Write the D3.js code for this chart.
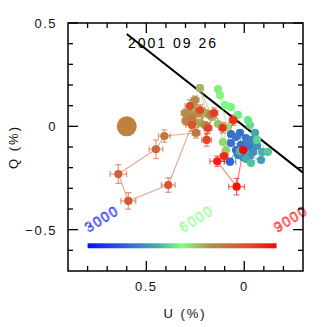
<!DOCTYPE html>
<html><head><meta charset="utf-8">
<script src="https://cdn.jsdelivr.net/npm/d3@7"></script>
<style>html,body{margin:0;padding:0;background:#fff;} svg{display:block;}</style>
</head><body>
<script>
// ---- data ----
const wavelength = [4200,4300,4330,4360,4390,4420,4450,4480,4510,4540,4570,4600,4630,
  4700,4780,4860,4940,5020,5100,5180,5260,5340,
  5420,5500,5580,5660,5740,5820,5900,5980,6060,6140,6220,6300,6380,
  6460,6520,6580,6640,6700,6760,6820,6880,6940,7000,7060,7120,7180,7240,7300,7360,7420,
  7600,7750,7850,7950,8020,8080,8140,8200,8260,8320,8400,8480,8560,8650,8800,8950];
const uPol = [0.073,0.042,0.068,0.022,0.017,0.068,0.042,-0.009,0.001,-0.029,0.032,-0.014,-0.040,
  0.006,-0.045,-0.065,-0.029,-0.086,-0.055,-0.009,-0.091,0.022,
  -0.034,-0.121,-0.065,-0.029,-0.019,0.032,0.068,0.098,0.124,0.134,0.088,0.109,0.093,
  0.134,0.165,0.226,0.195,0.226,0.262,0.277,0.236,0.302,0.251,0.200,0.298,0.175,0.262,0.267,0.246,0.408,
  0.451,0.643,0.592,0.388,0.267,0.277,0.226,0.192,0.185,0.155,0.110,0.056,0.103,0.138,0.039,0.006];
const qPol = [-0.171,-0.115,-0.037,-0.032,-0.090,-0.081,-0.052,-0.057,-0.115,-0.100,-0.139,-0.076,-0.066,
  -0.149,-0.124,-0.095,-0.144,-0.163,-0.032,-0.158,-0.124,-0.120,
  -0.178,-0.124,-0.066,0.006,0.030,0.055,0.093,0.103,0.151,0.180,-0.003,-0.076,-0.115,
  0.011,0.045,0.185,0.064,0.016,0.103,0.064,0.064,0.064,0.127,0.006,0.026,0.055,0.021,0.040,-0.032,-0.047,
  -0.111,-0.231,-0.361,-0.284,0.006,0.098,0.079,-0.066,-0.008,0.064,-0.007,0.030,-0.144,-0.169,-0.292,-0.115];
const uErr = [0.03,0.01,0.01,0.01,0.01,0.01,0.01,0.01,0.01,0.01,0.01,0.01,0.01,
  0.01,0.01,0.01,0.01,0.01,0.01,0.01,0.01,0.01,
  0.01,0.01,0.01,0.01,0.01,0.01,0.01,0.01,0.01,0.01,0.01,0.01,0.01,
  0.01,0.015,0.015,0.015,0.015,0.02,0.02,0.015,0.02,0.02,0.015,0.02,0.015,0.02,0.02,0.02,0.03,
  0.035,0.042,0.038,0.035,0.03,0.025,0.025,0.025,0.02,0.02,0.02,0.02,0.02,0.038,0.04,0.015];
const qErr = [0.015,0.01,0.01,0.01,0.01,0.01,0.01,0.01,0.01,0.01,0.01,0.01,0.01,
  0.01,0.01,0.01,0.01,0.01,0.01,0.01,0.01,0.01,
  0.01,0.01,0.01,0.01,0.01,0.01,0.01,0.01,0.01,0.01,0.01,0.01,0.01,
  0.01,0.015,0.015,0.015,0.015,0.025,0.02,0.015,0.02,0.02,0.015,0.02,0.015,0.02,0.02,0.025,0.03,
  0.045,0.045,0.04,0.035,0.03,0.03,0.025,0.03,0.025,0.025,0.025,0.025,0.025,0.025,0.04,0.015];
const ispU = [0.6];
const ispQ = [0.0];
const axisLineU = [0.6, -0.3];
const axisLineQ = [0.447, -0.224];
const xMajor = [0.5, 0];
const yMajor = [0.5, 0, -0.5];
const xMinor = [0.8,0.7,0.6,0.4,0.3,0.2,0.1,-0.1,-0.2];
const yMinor = [0.4,0.3,0.2,0.1,-0.1,-0.2,-0.3,-0.4,-0.6];
const barLabels = [3000, 6000, 9000];
const barLabelColors = ["#0000ff", "#80ff80", "#ff0000"];
const colorStops = [0, 0.25, 0.375, 0.5, 0.65, 0.75, 0.875, 1];
const colorValues = ["#0010ff","#3c78c8","#48b0a8","#80ff80","#b09048","#c87038","#e04428","#ff0000"];
const titleText = "2001 09 26";

// ---- chart ----
const W = 327, H = 327;
const svg = d3.select("body").append("svg").attr("width", W).attr("height", H);
const x = d3.scaleLinear().domain([0.9, -0.3]).range([68, 303]);
const y = d3.scaleLinear().domain([0.5, -0.7]).range([23, 271]);
const lamT = d3.scaleLinear().domain([3000, 9000]).range([0, 1]);
const col = d3.scaleLinear().domain(colorStops).range(colorValues).interpolate(d3.interpolateRgb).clamp(true);
const color = l => col(lamT(l));
const lamU = d3.scaleLinear().domain([3000, 9000]).range([0.8, -0.165]);

const pts = wavelength.map((l, i) => ({l, u: uPol[i], q: qPol[i], eu: uErr[i], eq: qErr[i]}));

const font = "'Liberation Sans', Arial, sans-serif";

// black line
svg.append("line")
  .attr("x1", x(axisLineU[0])).attr("y1", y(axisLineQ[0]))
  .attr("x2", x(axisLineU[1])).attr("y2", y(axisLineQ[1]))
  .attr("stroke", "#000").attr("stroke-width", 2);

// title
svg.append("text").attr("x", 128).attr("y", 48)
  .attr("font-family", font).attr("font-size", 14).attr("letter-spacing", 2)
  .attr("fill", "#000").text(titleText);

// ISP big dot
svg.append("circle").attr("cx", x(ispU[0])).attr("cy", y(ispQ[0])).attr("r", 10)
  .attr("fill", "#c08040");

// connecting lines
const g = svg.append("g");
for (let i = 1; i < pts.length; i++) {
  const a = pts[i-1], b = pts[i];
  g.append("line").attr("x1", x(a.u)).attr("y1", y(a.q)).attr("x2", x(b.u)).attr("y2", y(b.q))
    .attr("stroke", color(b.l)).attr("stroke-opacity", 0.55).attr("stroke-width", 1.1);
}
// error bars
pts.forEach(p => {
  const c = color(p.l);
  const eg = g.append("g").attr("stroke", c).attr("stroke-opacity", 0.6).attr("stroke-width", 1.3);
  eg.append("line").attr("x1", x(p.u - p.eu)).attr("x2", x(p.u + p.eu)).attr("y1", y(p.q)).attr("y2", y(p.q));
  eg.append("line").attr("x1", x(p.u)).attr("x2", x(p.u)).attr("y1", y(p.q - p.eq)).attr("y2", y(p.q + p.eq));
  eg.append("line").attr("x1", x(p.u - p.eu)).attr("x2", x(p.u - p.eu)).attr("y1", y(p.q) - 3).attr("y2", y(p.q) + 3);
  eg.append("line").attr("x1", x(p.u + p.eu)).attr("x2", x(p.u + p.eu)).attr("y1", y(p.q) - 3).attr("y2", y(p.q) + 3);
  eg.append("line").attr("x1", x(p.u) - 3).attr("x2", x(p.u) + 3).attr("y1", y(p.q - p.eq)).attr("y2", y(p.q - p.eq));
  eg.append("line").attr("x1", x(p.u) - 3).attr("x2", x(p.u) + 3).attr("y1", y(p.q + p.eq)).attr("y2", y(p.q + p.eq));
});
// markers
g.selectAll("circle.pt").data(pts).join("circle").attr("class", "pt")
  .attr("cx", d => x(d.u)).attr("cy", d => y(d.q)).attr("r", 4.1)
  .attr("fill", d => color(d.l));

// colour bar
const defs = svg.append("defs");
const grad = defs.append("linearGradient").attr("id", "cb").attr("x1", "0%").attr("x2", "100%");
colorStops.forEach((s, i) => grad.append("stop").attr("offset", (s * 100) + "%").attr("stop-color", colorValues[i]));
svg.append("rect").attr("x", x(lamU(3000))).attr("y", y(-0.566))
  .attr("width", x(lamU(9000)) - x(lamU(3000))).attr("height", y(-0.59) - y(-0.566))
  .attr("fill", "url(#cb)");
barLabels.forEach((l, i) => {
  svg.append("text")
    .attr("transform", `translate(${x(lamU(l)) + 1},${y(-0.515)}) rotate(-32)`)
    .attr("font-family", font).attr("font-size", 14).attr("letter-spacing", 1.5)
    .attr("fill", "none").attr("stroke", barLabelColors[i]).attr("stroke-width", 0.6)
    .text(l);
});

// frame
svg.append("rect").attr("x", 68).attr("y", 23).attr("width", 303 - 68).attr("height", 271 - 23)
  .attr("fill", "none").attr("stroke", "#000").attr("stroke-width", 1.5);

// ticks
const tg = svg.append("g").attr("stroke", "#000").attr("stroke-width", 1.3);
const tick = (vals, len) => {
  vals.forEach(v => {
    tg.append("line").attr("x1", x(v)).attr("x2", x(v)).attr("y1", 271).attr("y2", 271 - len);
    tg.append("line").attr("x1", x(v)).attr("x2", x(v)).attr("y1", 23).attr("y2", 23 + len);
  });
};
const ytick = (vals, len) => {
  vals.forEach(v => {
    tg.append("line").attr("y1", y(v)).attr("y2", y(v)).attr("x1", 68).attr("x2", 68 + len);
    tg.append("line").attr("y1", y(v)).attr("y2", y(v)).attr("x1", 303).attr("x2", 303 - len);
  });
};
tick(xMajor, 10); tick(xMinor, 5);
ytick(yMajor, 10); ytick(yMinor, 5);

// tick labels
const fmt = v => v === 0 ? "0" : (v < 0 ? "\u22120" + String(Math.abs(v)).slice(1) : String(v));
xMajor.forEach(v => {
  svg.append("text").attr("x", x(v)).attr("y", 291).attr("text-anchor", "middle")
    .attr("font-family", font).attr("font-size", 13).attr("letter-spacing", 1.5).attr("fill", "#111")
    .text(fmt(v));
});
yMajor.forEach(v => {
  svg.append("text").attr("x", 57).attr("y", y(v) + 5).attr("text-anchor", "end")
    .attr("font-family", font).attr("font-size", 13).attr("letter-spacing", 1.5).attr("fill", "#111")
    .text(fmt(v));
});

// axis titles
svg.append("text").attr("x", 185).attr("y", 318).attr("text-anchor", "middle")
  .attr("font-family", font).attr("font-size", 13).attr("letter-spacing", 2).attr("fill", "#111")
  .text("U (%)");
svg.append("text").attr("transform", "translate(18,147) rotate(-90)").attr("text-anchor", "middle")
  .attr("font-family", font).attr("font-size", 13).attr("letter-spacing", 2).attr("fill", "#111")
  .text("Q (%)");
</script>
</body></html>
